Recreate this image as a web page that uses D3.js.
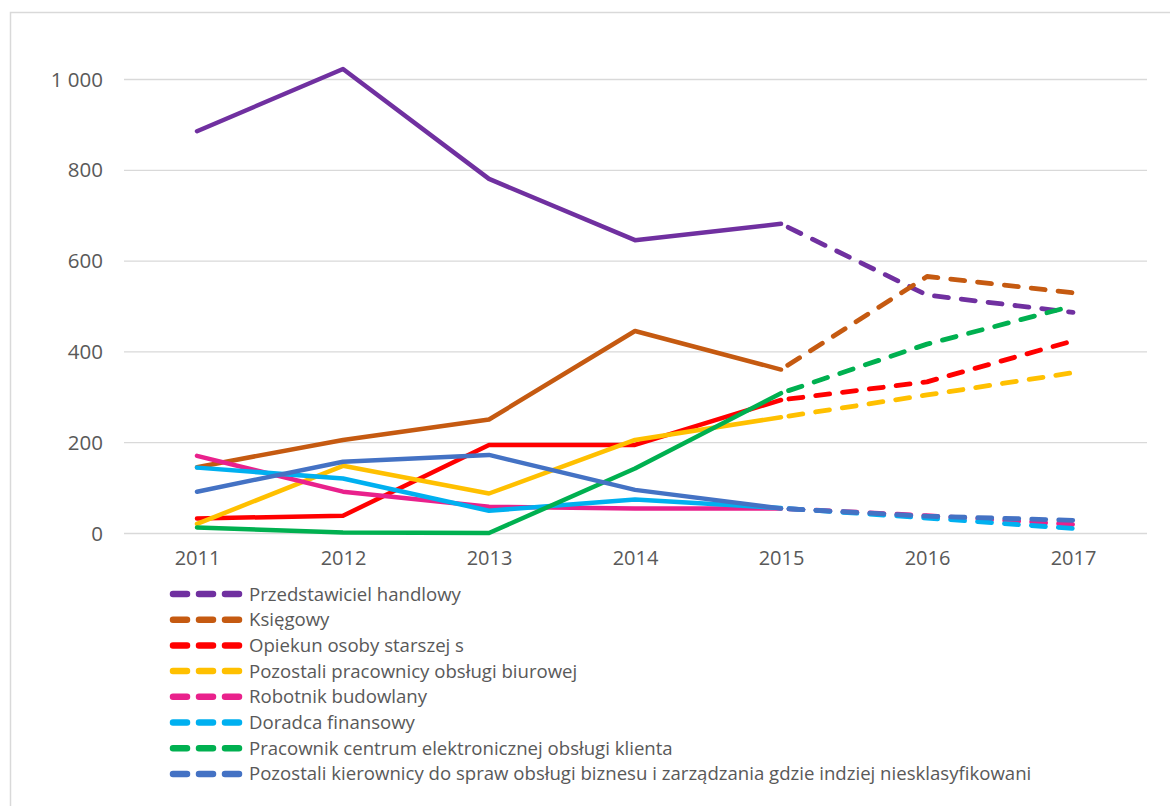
<!DOCTYPE html>
<html><head><meta charset="utf-8">
<script src="https://cdn.jsdelivr.net/npm/d3@7"></script>
<style>
html,body{margin:0;padding:0;background:#fff;}
svg{display:block;}
</style></head>
<body>
<svg id="chart" width="1170" height="806"></svg>
<script>
const years = ["2011","2012","2013","2014","2015","2016","2017"];
const yTicks = [0,200,400,600,800,1000];
const seriesNames = [
  "Przedstawiciel handlowy",
  "Księgowy",
  "Opiekun osoby starszej s",
  "Pozostali pracownicy obsługi biurowej",
  "Robotnik budowlany",
  "Doradca finansowy",
  "Pracownik centrum elektronicznej obsługi klienta",
  "Pozostali kierownicy do spraw obsługi biznesu i zarządzania gdzie indziej niesklasyfikowani"
];
const seriesColors = ["#7030A0","#C55A11","#FF0000","#FFC000","#E9218C","#00B0F0","#00B050","#4472C4"];
const przedstawiciel = [885,1022,780,645,681,524,486];
const ksiegowy      = [145,205,250,445,360,565,529];
const opiekun       = [32,38,194,194,293,333,423];
const pozostaliBiur = [20,148,87,205,255,304,353];
const robotnik      = [170,91,58,54,54,38,19];
const doradca       = [144,120,49,74,55,33,10];
const pracownikCEO  = [12,1,0,142,308,416,500];
const kierownicy    = [91,157,172,95,54,37,28];
const seriesValues = [przedstawiciel,ksiegowy,opiekun,pozostaliBiur,robotnik,doradca,pracownikCEO,kierownicy];
const lastActual = "2015";

const svg = d3.select("#chart");
const font = "'Open Sans', 'Noto Sans', sans-serif";
const txt = "#595959";

// outer frame
svg.append("rect").attr("x",10.5).attr("y",12.5).attr("width",1300).attr("height",1000)
  .attr("fill","none").attr("stroke","#d9d9d9").attr("stroke-width",1.5);

const x = d3.scalePoint().domain(years).range([124,1146]).padding(0.5);
const y = d3.scaleLinear().domain([0,1000]).range([533,79]);

// gridlines
svg.append("g").selectAll("line").data(yTicks).join("line")
  .attr("x1",124).attr("x2",1147)
  .attr("y1",d=>y(d)+0.5).attr("y2",d=>y(d)+0.5)
  .attr("stroke","#d9d9d9").attr("stroke-width",1.3);

// y axis labels
const fmt = d => d >= 1000 ? d3.format(",")(d).replace(",", " ") : String(d);
const yAxis = d3.axisLeft(y).tickValues(yTicks).tickFormat(fmt).tickSize(0).tickPadding(0);
const gy = svg.append("g").attr("transform","translate(103,0)").call(yAxis);
gy.select(".domain").remove();
gy.selectAll("text").attr("font-family",font).attr("font-size",20.5).attr("fill",txt).attr("dy","0.35em");

// x axis labels
const xAxis = d3.axisBottom(x).tickSize(0).tickPadding(0);
const gx = svg.append("g").attr("transform","translate(0,551)").call(xAxis);
gx.select(".domain").remove();
gx.selectAll("text").attr("font-family",font).attr("font-size",20).attr("fill",txt).attr("dy","0.71em");

// lines
const line = d3.line().x(d=>x(d.year)).y(d=>y(d.value));
const splitIdx = years.indexOf(lastActual);
seriesValues.forEach((vals,i)=>{
  const pts = years.map((yr,j)=>({year:yr,value:vals[j]}));
  const g = svg.append("g");
  g.append("path").datum(pts.slice(0,splitIdx+1)).attr("d",line)
    .attr("fill","none").attr("stroke",seriesColors[i]).attr("stroke-width",4.5)
    .attr("stroke-linejoin","round").attr("stroke-linecap","round");
  g.append("path").datum(pts.slice(splitIdx)).attr("d",line)
    .attr("fill","none").attr("stroke",seriesColors[i]).attr("stroke-width",4.8)
    .attr("stroke-dasharray","14,13").attr("stroke-dashoffset",-8)
    .attr("stroke-linejoin","round").attr("stroke-linecap","round");
});

// legend
const lg = svg.append("g");
seriesNames.forEach((name,i)=>{
  const yy = 594 + i*25.7;
  lg.append("line").attr("x1",173).attr("x2",239).attr("y1",yy).attr("y2",yy)
    .attr("stroke",seriesColors[i]).attr("stroke-width",6.5)
    .attr("stroke-dasharray","14,12").attr("stroke-linecap","round");
  lg.append("text").attr("x",249).attr("y",yy).attr("dy","0.35em")
    .attr("font-family",font).attr("font-size",18.6).attr("fill",txt).text(name);
});
</script>
</body></html>
